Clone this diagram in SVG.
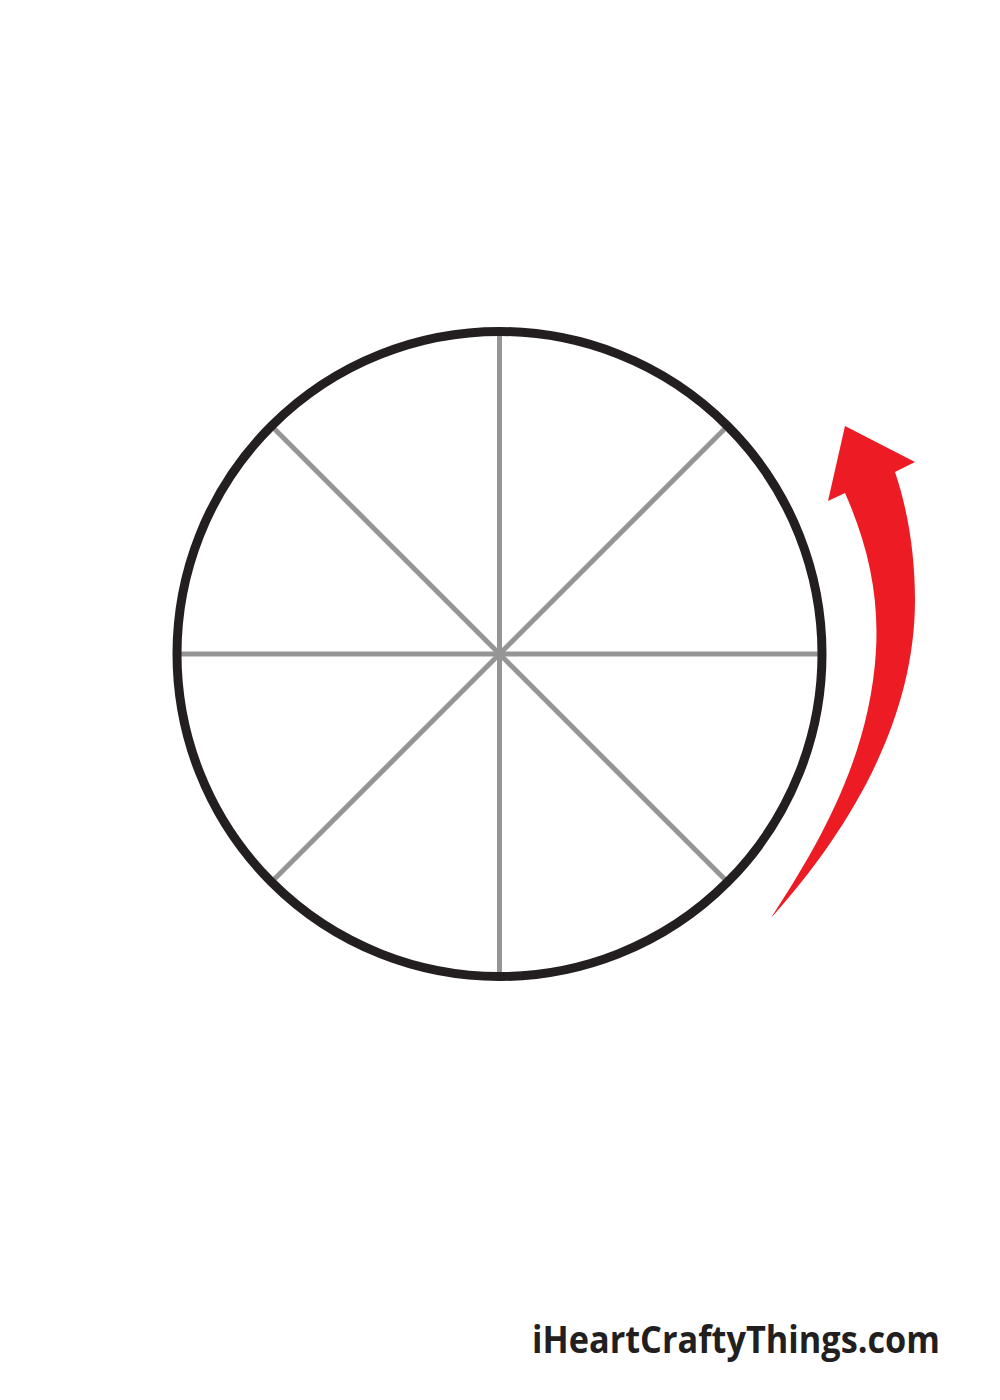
<svg xmlns="http://www.w3.org/2000/svg" width="1000" height="1400" viewBox="0 0 1000 1400">
<style>
.spoke{stroke:#959595;stroke-width:5;fill:none}
.rim{stroke:#231f20;stroke-width:9;fill:none}
.label{font-family:"Open Sans","Liberation Sans",sans-serif;font-weight:bold;fill:#231f20}
</style>
<rect width="1000" height="1400" fill="#ffffff"/>
<g id="spokes">
<line class="spoke" x1="499.5" y1="331" x2="499.5" y2="977"/>
<line class="spoke" x1="177" y1="654" x2="822" y2="654"/>
<line class="spoke" x1="271.5" y1="426" x2="727.5" y2="882"/>
<line class="spoke" x1="727.5" y1="426" x2="271.5" y2="882"/>
</g>
<g id="wheel">
<circle class="rim" cx="499.5" cy="654" r="322.5"/>
</g>
<g id="arrow">
<path fill="#ed1c24" d="M845,426 L915,462 L895,472 C908,510 915,555 915,600 C915,720 850,830 771,918 C815,850 870,760 876,650 C879,595 868,545 845,493 L828,501 Z"/>
</g>
<text class="label" x="532" y="1353" font-size="38" textLength="408" lengthAdjust="spacingAndGlyphs">iHeartCraftyThings.com</text>
</svg>
